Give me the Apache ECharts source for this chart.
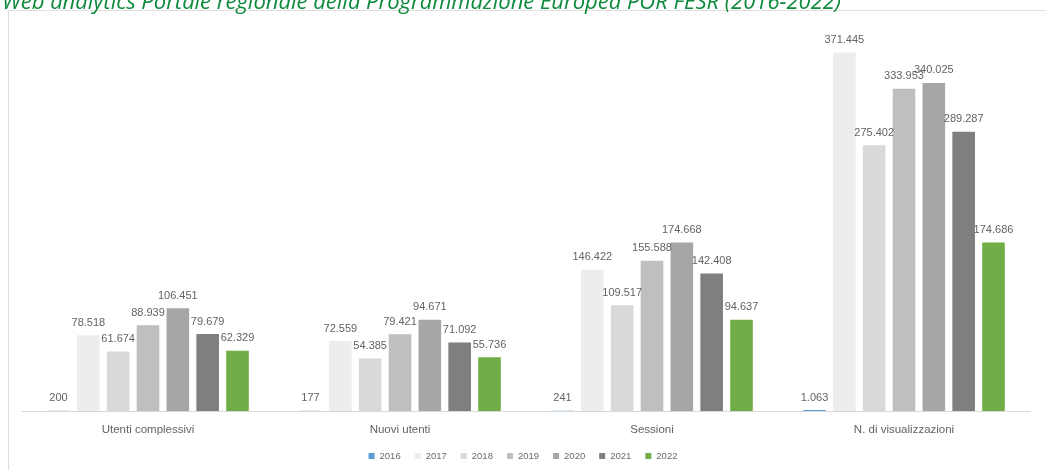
<!DOCTYPE html>
<html>
<head>
<meta charset="utf-8">
<script src="https://cdn.jsdelivr.net/npm/echarts@6/dist/echarts.min.js"></script>
<style>
  html, body { margin: 0; padding: 0; background: #fff; }
  #chart { width: 1046px; height: 470px; }
</style>
</head>
<body>
<div id="chart"></div>
<script>
// Indicatori di traffico del portale, per anno
const categories = ['Utenti complessivi', 'Nuovi utenti', 'Sessioni', 'N. di visualizzazioni'];
const years = ['2016', '2017', '2018', '2019', '2020', '2021', '2022'];
const v2016 = [200, 177, 241, 1063];
const v2017 = [78518, 72559, 146422, 371445];
const v2018 = [61674, 54385, 109517, 275402];
const v2019 = [88939, 79421, 155588, 333953];
const v2020 = [106451, 94671, 174668, 340025];
const v2021 = [79679, 71092, 142408, 289287];
const v2022 = [62329, 55736, 94637, 174686];
const seriesValues = [v2016, v2017, v2018, v2019, v2020, v2021, v2022];
const colors = ['#5b9bd5', '#ededed', '#d9d9d9', '#bfbfbf', '#a6a6a6', '#7f7f7f', '#70ad47'];

// formato italiano: punto come separatore delle migliaia
function fmt(n) {
  return String(n).replace(/\B(?=(\d{3})+(?!\d))/g, '.');
}

const textFont = 'Liberation Sans, Arial, sans-serif';
const chart = echarts.init(document.getElementById('chart'), null, { renderer: 'canvas' });

const series = years.map((y, i) => ({
  name: y,
  type: 'bar',
  data: seriesValues[i],
  barGap: '32%',
  barCategoryGap: '20%',
  itemStyle: { color: colors[i] },
  label: {
    show: true,
    position: 'top',
    distance: 7,
    color: '#636363',
    fontSize: 11,
    fontFamily: textFont,
    formatter: p => fmt(p.value)
  }
}));

chart.setOption({
  animation: false,
  color: colors,
  title: {
    text: 'Web analytics Portale regionale della Programmazione Europea POR FESR (2016-2022)',
    left: -3,
    top: -13,
    textStyle: {
      color: '#0d8a3c',
      fontStyle: 'italic',
      fontWeight: 'normal',
      fontSize: 22,
      fontFamily: 'Open Sans, Noto Sans, sans-serif'
    }
  },
  graphic: [{
    type: 'rect',
    shape: { x: 8.5, y: 10.5, width: 1050, height: 470 },
    style: { fill: 'none', stroke: '#e0e0e0', lineWidth: 1 },
    silent: true,
    z: -1
  }],
  legend: {
    data: years,
    bottom: 4,
    left: 'center',
    itemWidth: 6,
    itemHeight: 6,
    itemGap: 14,
    icon: 'rect',
    textStyle: { color: '#6a6a6a', fontSize: 9.5, fontFamily: textFont }
  },
  grid: { left: 22, right: 16, top: 25, bottom: 59, containLabel: false },
  xAxis: {
    type: 'category',
    data: categories,
    axisLine: { lineStyle: { color: '#d9d9d9', width: 1 } },
    axisTick: { show: false },
    axisLabel: {
      color: '#636363',
      fontSize: 11.5,
      margin: 13,
      fontFamily: textFont
    }
  },
  yAxis: {
    type: 'value',
    min: 0,
    max: 400000,
    show: false,
    splitLine: { show: false }
  },
  series: series
});
</script>
</body>
</html>
